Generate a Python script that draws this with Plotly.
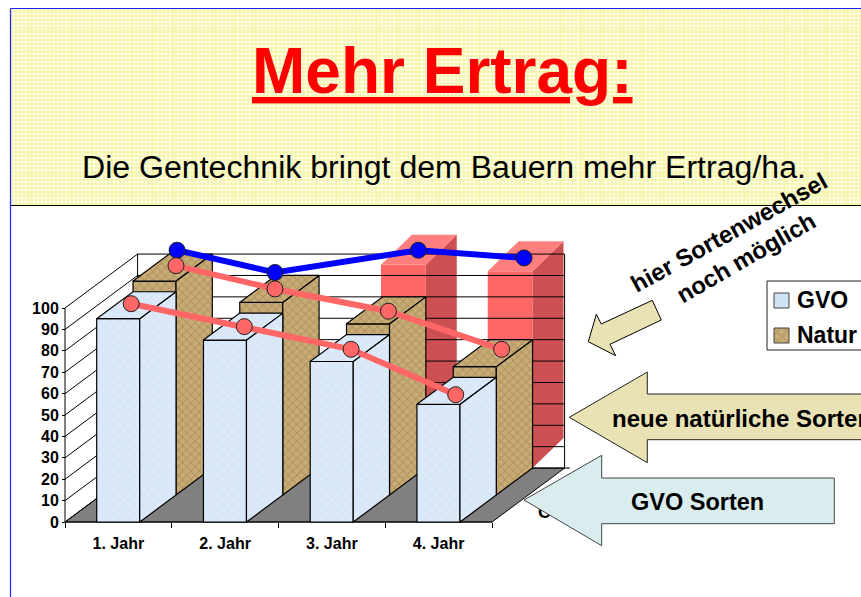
import plotly.graph_objects as go

# ---------- data ----------
CATEGORIES = ["1. Jahr", "2. Jahr", "3. Jahr", "4. Jahr"]
GVO = [95, 85, 75, 55]
NATUR = [100, 90, 80, 60]
RED_BARS = [None, None, 95, 92]
Y_TICKS = [0, 10, 20, 30, 40, 50, 60, 70, 80, 90, 100]

LOWER_X = [0.62, 1.68, 2.68, 3.66]
LOWER_Y = [102.0, 91.3, 80.7, 59.5]
UPPER_X = [1.04, 1.967, 3.03, 4.09]
UPPER_Y = [119.8, 108.9, 98.5, 80.7]
BLUE_X = [1.05, 1.967, 3.31, 4.30]
BLUE_Y = [127.0, 116.6, 127.0, 123.4]

TITLE = "Mehr Ertrag:"
SUBTITLE = "Die Gentechnik bringt dem Bauern mehr Ertrag/ha."

# ---------- oblique projection in axis units ----------
W, H = 861, 597
X0, Y0 = 65, 522
PX_CAT, PX_VAL = 106.75, 2.14
DEPTH_X, DEPTH_Y = 0.68, 25.2
GAP, BAR_W = 0.297, 0.403
BLACK = "#000000"
FONT = "Liberation Sans"


def proj(x, z, v):
    return x + z * DEPTH_X, v + z * DEPTH_Y


fig = go.Figure()


def poly(pts, color, pattern=None, line=BLACK, lw=1.2, axes=("x", "y")):
    xs = [p[0] for p in pts] + [pts[0][0]]
    ys = [p[1] for p in pts] + [pts[0][1]]
    fig.add_trace(go.Scatter(
        x=xs, y=ys, mode="lines", fill="toself", fillcolor=color,
        fillpattern=pattern, line=dict(color=line, width=lw),
        hoverinfo="skip", showlegend=False, cliponaxis=False,
        xaxis=axes[0], yaxis=axes[1]))


def box(x0, x1, z0, z1, top, color, pattern=None, base=0.0):
    """Three visible faces of one oblique column."""
    f = proj
    front = [f(x0, z0, base), f(x1, z0, base), f(x1, z0, top), f(x0, z0, top)]
    side = [f(x1, z0, base), f(x1, z1, base), f(x1, z1, top), f(x1, z0, top)]
    lid = [f(x0, z0, top), f(x1, z0, top), f(x1, z1, top), f(x0, z1, top)]
    poly(front, color, pattern)
    poly(side, color, pattern)
    poly(lid, color, pattern)


# floor
poly([proj(0, 0, 0), proj(4, 0, 0), proj(4, 1, 0), proj(0, 1, 0)], "#808080", lw=1)

# red columns behind the wall grid
for i, v in enumerate(RED_BARS):
    if v is None:
        continue
    x0, x1 = i + 0.28 + DEPTH_X, i + 0.70 + DEPTH_X
    b, t = DEPTH_Y, v + DEPTH_Y
    dx, dy = 0.29, 14
    poly([(x0, b), (x1, b), (x1, t), (x0, t)], "#FF6666", line="rgba(0,0,0,0)", lw=0)
    poly([(x1, b), (x1 + dx, b + dy), (x1 + dx, t + dy), (x1, t)], "#CC5052", line="rgba(0,0,0,0)", lw=0)
    poly([(x0, t), (x1, t), (x1 + dx, t + dy), (x0 + dx, t + dy)], "#FF7F7F", line="rgba(0,0,0,0)", lw=0)

# walls, grid and the axis lines of the front edge
gx, gy = [], []
for v in Y_TICKS:
    a, b, c = proj(0, 0, v), proj(0, 1, v), proj(4, 1, v)
    gx += [a[0], b[0], c[0], None]
    gy += [a[1], b[1], c[1], None]
for xx in (0, 4):
    a, b = proj(xx, 1, 0), proj(xx, 1, 100)
    gx += [a[0], b[0], None]
    gy += [a[1], b[1], None]
tail = proj(4.05, 1, 0)
gx += [proj(4, 1, 0)[0], tail[0], None, 0, 0, None, 0, 4]
gy += [proj(4, 1, 0)[1], tail[1], None, 0, 100, None, 0, 0]
fig.add_trace(go.Scatter(x=gx, y=gy, mode="lines", line=dict(color=BLACK, width=1),
                         hoverinfo="skip", showlegend=False, cliponaxis=False))

# columns, back row first
SAND = dict(shape="x", bgcolor="#C8AC78", fgcolor="#B2945E", size=6, solidity=0.35)
ICE = dict(shape="x", bgcolor="#D8E7F8", fgcolor="#DFEBFA", size=7, solidity=0.35)
for i, v in enumerate(NATUR):
    box(i + GAP, i + GAP + BAR_W, 0.5, 1.0, v, "#C8AC78", SAND)
for i, v in enumerate(GVO):
    box(i + GAP, i + GAP + BAR_W, 0.0, 0.5, v, "#D8E7F8", ICE)

# overlaid lines
for xs, ys, col in ((BLUE_X, BLUE_Y, "#0000FF"), (UPPER_X, UPPER_Y, "#FF6666"), (LOWER_X, LOWER_Y, "#FF6666")):
    fig.add_trace(go.Scatter(
        x=xs, y=ys, mode="lines+markers", line=dict(color=col, width=6),
        marker=dict(size=16, color=col, line=dict(color="#202020", width=1)),
        hoverinfo="skip", showlegend=False, cliponaxis=False))

# ---------- page furniture on a pixel-sized second subplot ----------
PAGE = ("x2", "y2")
DOTS = dict(shape=".", bgcolor="#F6F6B0", fgcolor="#FFFFFF", size=4, solidity=0.35)
WEAVE = dict(shape="+", bgcolor="rgba(0,0,0,0)", fgcolor="#F2F28E", size=20.4, solidity=0.06)
HEAD = [(11, 9), (861, 9), (861, 205), (11, 205)]
poly(HEAD, "#F6F6B0", DOTS, line="rgba(0,0,0,0)", lw=0, axes=PAGE)
poly(HEAD, "rgba(0,0,0,0)", WEAVE, line="rgba(0,0,0,0)", lw=0, axes=PAGE)

fig.add_trace(go.Scatter(x=[538], y=[513], mode="text", text=["<b>C</b>"], textposition="middle right",
                         textfont=dict(family=FONT, size=18, color=BLACK), hoverinfo="skip",
                         showlegend=False, cliponaxis=False, xaxis="x2", yaxis="y2"))

poly([(588.3, 341.7), (596.3, 314.3), (601.3, 324), (652.3, 300.3), (661.3, 320), (610, 344.3), (615.7, 355.7)],
     "#E8E2B4", lw=1, axes=PAGE)
poly([(569.3, 417.3), (647.3, 372), (647.3, 394), (880, 394), (880, 439.7), (647.3, 439.7), (647.3, 462.7)],
     "#E8E2B4", line="#222222", lw=1, axes=PAGE)
poly([(524, 500), (601.7, 455.3), (601.7, 478), (834.3, 478), (834.3, 523.7), (601.7, 523.7), (601.7, 545.7)],
     "#DAEDEE", line="#444444", lw=1, axes=PAGE)

# legend
poly([(767, 281), (880, 281), (880, 350), (767, 350)], "#FFFFFF", line="#222222", lw=1, axes=PAGE)
poly([(774, 293), (789, 293), (789, 308), (774, 308)], "#CFE2F5", line="#444444", lw=1, axes=PAGE)
poly([(774, 328), (789, 328), (789, 343), (774, 343)], "#C8AC78",
     dict(shape="x", bgcolor="#C8AC78", fgcolor="#B2945E", size=7, solidity=0.3), line="#444444", lw=1, axes=PAGE)


def note(text, x, y, size, color=BLACK, angle=0, xanchor="center", bold=True):
    fig.add_annotation(text=f"<b>{text}</b>" if bold else text, x=x, y=y, xref="x2", yref="y2",
                       showarrow=False, xanchor=xanchor, yanchor="middle", textangle=angle,
                       font=dict(family=FONT, size=size, color=color))


note(f"<u>{TITLE}</u>", 442, 71, 64, "#FF0000")
note(SUBTITLE, 443.5, 167, 32.1, bold=False)
note("hier Sortenwechsel", 728.5, 232.5, 24, angle=-29)
note("noch möglich", 746, 257.5, 24, angle=-30)
note("GVO", 795, 300, 23, xanchor="left")
note("Natur", 795, 335, 23, xanchor="left")
note("neue natürliche Sorten", 610, 418, 24, xanchor="left")
note("GVO Sorten", 697, 502, 23.5)

# page border
for sh in (dict(x0=10.5, x1=861, y0=8.5, y1=8.5, color="#2222FF"), dict(x0=10.5, x1=10.5, y0=8.5, y1=597, color="#2222FF"),
           dict(x0=11, x1=861, y0=205.5, y1=205.5, color=BLACK)):
    fig.add_shape(type="line", x0=sh["x0"], x1=sh["x1"], y0=sh["y0"], y1=sh["y1"], xref="x2", yref="y2",
                  line=dict(color=sh["color"], width=1.2))

fig.update_layout(
    width=W, height=H, autosize=False, margin=dict(l=0, r=0, t=0, b=0), template="none",
    paper_bgcolor="#FFFFFF", plot_bgcolor="rgba(0,0,0,0)", showlegend=False,
    xaxis=dict(domain=[0, 1], range=[-X0 / PX_CAT, (W - X0) / PX_CAT], anchor="free", position=(H - Y0) / H,
               automargin=False, tickmode="array", tickvals=[0.5, 1.5, 2.5, 3.5],
               ticktext=[f"<b>{c}</b>" for c in CATEGORIES], ticks="", ticklen=0, showgrid=False, zeroline=False,
               showline=False, tickfont=dict(family=FONT, size=16, color=BLACK), ticklabelstandoff=10,
               minor=dict(tickmode="array", tickvals=[0, 1, 2, 3, 4], ticks="outside", ticklen=5, tickcolor=BLACK,
                          tickwidth=1, showgrid=False)),
    yaxis=dict(domain=[0, 1], range=[(Y0 - H) / PX_VAL, Y0 / PX_VAL], anchor="free", position=X0 / W,
               automargin=False, tickmode="array", tickvals=Y_TICKS,
               ticktext=[f"<b>{v}</b>" for v in Y_TICKS], ticks="outside", ticklen=3, tickcolor=BLACK, showgrid=False,
               zeroline=False, showline=False, tickfont=dict(family=FONT, size=16, color=BLACK)),
    xaxis2=dict(domain=[0, 1], range=[0, W], visible=False, anchor="y2", fixedrange=True, automargin=False),
    yaxis2=dict(domain=[0, 1], range=[H, 0], visible=False, anchor="x2", fixedrange=True, automargin=False),
)

fig.write_html("out.html", config=dict(displayModeBar=False),
               post_script="document.body.style.margin='0';document.body.style.overflow='hidden';")
